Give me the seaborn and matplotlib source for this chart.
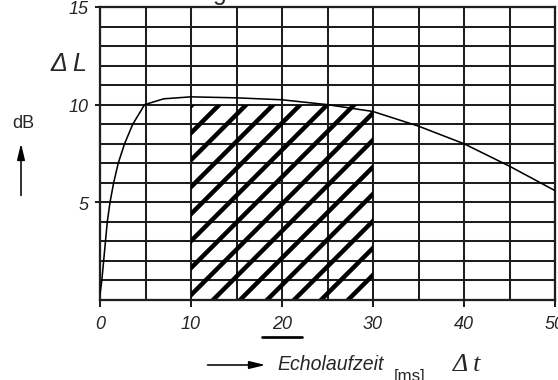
import matplotlib
matplotlib.use("Agg")
import matplotlib.pyplot as plt
import seaborn as sns
import pandas as pd
from matplotlib.lines import Line2D
from matplotlib.ticker import MultipleLocator

# Level difference curve (echo delay in ms -> dB)
delay_ms = [0, 0.2, 0.4, 0.6, 0.8, 1.1, 1.5, 2.0, 2.7, 3.6, 4.9, 7.0, 10, 15, 20, 25, 30, 35, 40, 45, 50]
level_db = [0.3, 1, 2, 3, 4, 5, 6, 7, 8, 9, 10, 10.3, 10.4, 10.35, 10.25, 10.0, 9.65, 8.9, 8.0, 6.85, 5.6]

# hatched zone
zone_start = 10
zone_end = 30
zone_level = 10

x_ticks = [0, 10, 20, 30, 40, 50]
y_ticks = [5, 10, 15]

W, H, DPI = 558, 381, 162


def fx(px):
    return px / W


def fy(py):
    return 1 - py / H


sns.set_theme(style="white")
plt.rcParams["font.family"] = ["Liberation Sans", "DejaVu Sans"]
plt.rcParams["hatch.linewidth"] = 2.0
plt.rcParams["hatch.color"] = "black"

fig = plt.figure(figsize=(W / DPI, H / DPI), dpi=DPI)
ax = fig.add_axes([fx(100), fy(301), 455 / W, 293 / H])

# hatched block
ax.bar(
    (zone_start + zone_end) / 2,
    zone_level,
    width=zone_end - zone_start,
    facecolor="none",
    edgecolor="black",
    hatch="//",
    linewidth=0,
    zorder=2,
)

# curve
df = pd.DataFrame({"delay": delay_ms, "level": level_db})
sns.lineplot(data=df, x="delay", y="level", ax=ax, color="black", linewidth=0.7,
             sort=False, estimator=None, zorder=3)

ax.set_xlim(0, 50)
ax.set_ylim(0, 15)
ax.set_xticks(x_ticks)
ax.set_yticks(y_ticks)
ax.set_xticklabels([str(t) for t in x_ticks], fontstyle="italic", fontsize=8)
ax.set_yticklabels([str(t) for t in y_ticks], fontstyle="italic", fontsize=8)
ax.xaxis.set_minor_locator(MultipleLocator(5))
ax.yaxis.set_minor_locator(MultipleLocator(1))
ax.set_xlabel("")
ax.set_ylabel("")

ax.grid(which="both", color="#1e1e1e", linewidth=0.9)
ax.set_axisbelow(True)
ax.tick_params(axis="x", which="major", bottom=True, length=3, width=0.9, pad=3.5, color="#1e1e1e")
ax.tick_params(axis="y", which="major", left=True, length=2.2, width=0.9, pad=3, color="#1e1e1e")
ax.tick_params(which="minor", length=0)
for spine in ax.spines.values():
    spine.set_color("#1e1e1e")
    spine.set_linewidth(1.0)

# annotations around the axes
fig.text(fx(50), fy(64), "\u0394 L", fontsize=11.2, fontstyle="italic", ha="left", va="center")
fig.text(fx(12), fy(124), "dB", fontsize=8, ha="left", va="center")
ax.annotate("", xy=(fx(21), fy(140)), xycoords="figure fraction",
            xytext=(fx(21), fy(201)), textcoords="figure fraction",
            arrowprops=dict(arrowstyle="-|>,head_length=0.5,head_width=0.12", color="black", lw=0.7))

ax.annotate("", xy=(fx(270), fy(366)), xycoords="figure fraction",
            xytext=(fx(203), fy(366)), textcoords="figure fraction",
            arrowprops=dict(arrowstyle="-|>,head_length=0.5,head_width=0.12", color="black", lw=0.7))
fig.text(fx(277), fy(365), "Echolaufzeit", fontsize=8.7, fontstyle="italic", ha="left", va="center")
fig.text(fx(394), fy(377), "[ms]", fontsize=7.5, ha="left", va="center")
fig.text(fx(453), fy(365), "\u0394 t", fontsize=11.5, fontstyle="italic", ha="left", va="center",
         family=["Liberation Serif", "DejaVu Serif"])

# cropped title residue and underline below "20"
fig.text(fx(213), 1.0, "g", fontsize=11, ha="left", va="baseline")
fig.add_artist(Line2D([fx(262), fx(302)], [fy(338), fy(338)], color="black", lw=1.2))

fig.savefig("out.png", dpi=DPI)
